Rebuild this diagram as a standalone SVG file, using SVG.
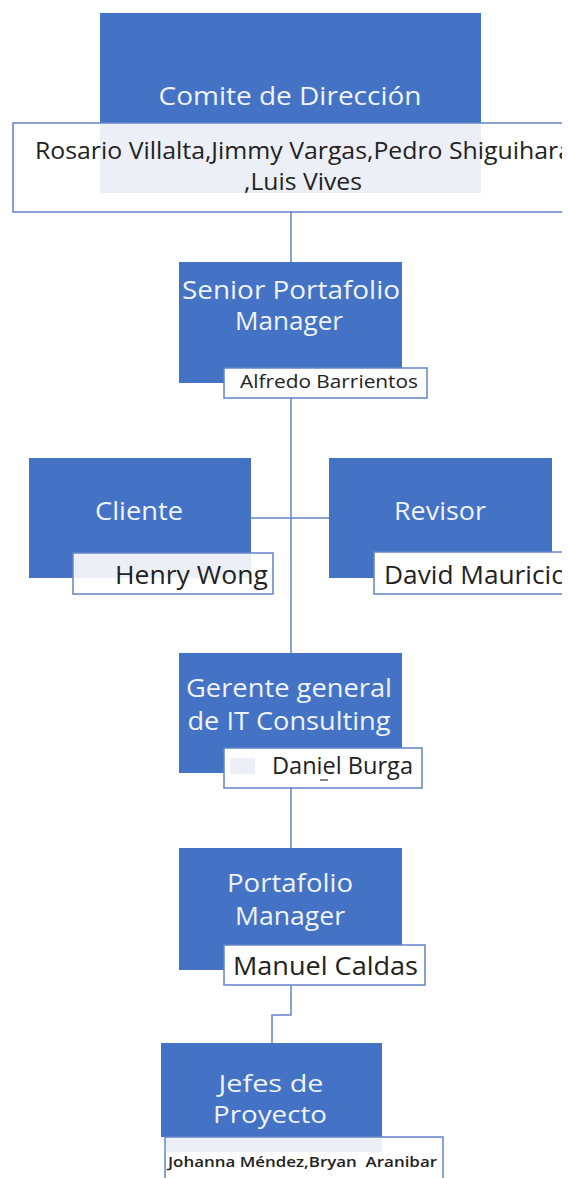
<svg xmlns="http://www.w3.org/2000/svg" width="568" height="1178" viewBox="0 0 568 1178">
  <defs>
    <clipPath id="page">
      <rect x="0" y="0" width="562" height="1178"/>
    </clipPath>
    <style>
      .role { fill: #4472c4; }
      .name { fill: #ffffff; stroke: #6384c8; stroke-width: 1.5; }
      .tint { fill: #eceff6; }
      .title { font-family: "Open Sans", "Noto Sans", sans-serif; fill: #eef3fc; text-anchor: middle; }
      .person { font-family: "Open Sans", "Noto Sans", sans-serif; fill: #222222; }
      .link { fill: none; stroke: #6384c8; stroke-width: 1.5; }
    </style>
  </defs>
  <rect width="568" height="1178" fill="#ffffff"/>

  <!-- connectors between the levels -->
  <g id="connectors" clip-path="url(#page)">
    <path class="link" d="M291 212 V262"/>
    <path class="link" d="M291 398 V653"/>
    <path class="link" d="M251 518 H329"/>
    <path class="link" d="M291 788 V848"/>
    <path class="link" d="M291 985 V1015 H272 V1043"/>
  </g>

  <g clip-path="url(#page)">
    <!-- steering committee -->
    <g id="comite">
      <rect class="role" x="100" y="13" width="381" height="110"/>
      <rect class="name" x="13" y="123" width="590" height="89"/>
      <rect class="tint" x="100" y="124" width="381" height="69"/>
      <text class="title" x="290" y="105" font-size="26" textLength="263" lengthAdjust="spacingAndGlyphs">Comite de Dirección</text>
      <text class="person" x="35" y="159" font-size="23" textLength="537" lengthAdjust="spacingAndGlyphs">Rosario Villalta,Jimmy Vargas,Pedro Shiguihara</text>
      <text class="person" x="244" y="190" font-size="23" textLength="118" lengthAdjust="spacingAndGlyphs">,Luis Vives</text>
    </g>

    <!-- senior portfolio manager -->
    <g id="senior">
      <rect class="role" x="179" y="262" width="223" height="121"/>
      <text class="title" x="291" y="299" font-size="25" textLength="218" lengthAdjust="spacingAndGlyphs">Senior Portafolio</text>
      <text class="title" x="289" y="330" font-size="25" textLength="108" lengthAdjust="spacingAndGlyphs">Manager</text>
      <rect class="name" x="224" y="368" width="203" height="30"/>
      <text class="person" x="240" y="388" font-size="18" textLength="178" lengthAdjust="spacingAndGlyphs">Alfredo Barrientos</text>
    </g>

    <!-- client -->
    <g id="cliente">
      <rect class="role" x="29" y="458" width="222" height="120"/>
      <text class="title" x="139" y="520" font-size="26" textLength="88" lengthAdjust="spacingAndGlyphs">Cliente</text>
      <rect class="name" x="73" y="553" width="200" height="41"/>
      <rect class="tint" x="74" y="554" width="177" height="24"/>
      <text class="person" x="115" y="584" font-size="26" textLength="153" lengthAdjust="spacingAndGlyphs">Henry Wong</text>
    </g>

    <!-- reviewer -->
    <g id="revisor">
      <rect class="role" x="329" y="458" width="223" height="120"/>
      <text class="title" x="440" y="520" font-size="26" textLength="92" lengthAdjust="spacingAndGlyphs">Revisor</text>
      <rect class="name" x="374" y="552" width="230" height="42"/>
      <text class="person" x="384" y="584" font-size="26" textLength="183" lengthAdjust="spacingAndGlyphs">David Mauricio</text>
    </g>

    <!-- general manager -->
    <g id="gerente">
      <rect class="role" x="179" y="653" width="223" height="120"/>
      <text class="title" x="289" y="697" font-size="25" textLength="206" lengthAdjust="spacingAndGlyphs">Gerente general</text>
      <text class="title" x="289" y="730" font-size="25" textLength="203" lengthAdjust="spacingAndGlyphs">de IT Consulting</text>
      <rect class="name" x="224" y="748" width="198" height="40"/>
      <rect class="tint" x="230" y="758" width="25" height="16"/>
      <text class="person" x="272" y="774" font-size="23" textLength="141" lengthAdjust="spacingAndGlyphs">Daniel Burga</text>
      <path d="M320 780 H328" stroke="#333333" stroke-width="1.2"/>
    </g>

    <!-- portfolio manager -->
    <g id="portafolio">
      <rect class="role" x="179" y="848" width="223" height="122"/>
      <text class="title" x="290" y="892" font-size="25" textLength="126" lengthAdjust="spacingAndGlyphs">Portafolio</text>
      <text class="title" x="290" y="925" font-size="25" textLength="110" lengthAdjust="spacingAndGlyphs">Manager</text>
      <rect class="name" x="224" y="945" width="201" height="40"/>
      <text class="person" x="233" y="975" font-size="25" textLength="185" lengthAdjust="spacingAndGlyphs">Manuel Caldas</text>
    </g>

    <!-- project leads -->
    <g id="jefes">
      <rect class="role" x="161" y="1043" width="221" height="94"/>
      <text class="title" x="271" y="1092" font-size="24" textLength="105" lengthAdjust="spacingAndGlyphs">Jefes de</text>
      <text class="title" x="270" y="1123" font-size="24" textLength="114" lengthAdjust="spacingAndGlyphs">Proyecto</text>
      <rect class="name" x="165" y="1137" width="278" height="60"/>
      <rect class="tint" x="166" y="1138" width="216" height="14"/>
      <text class="person" x="168" y="1167" font-size="15" font-weight="600" textLength="269" lengthAdjust="spacingAndGlyphs">Johanna Méndez,Bryan&#160; Aranibar</text>
    </g>
  </g>
</svg>
